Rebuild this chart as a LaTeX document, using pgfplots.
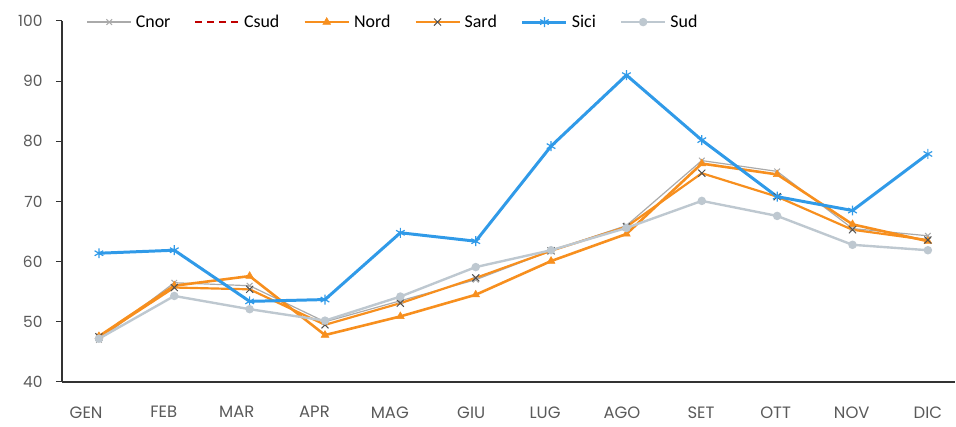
\documentclass[border=0pt]{standalone}
\usepackage{fontspec}
\setmainfont{Carlito}
\newfontfamily\tickfont{Poppins}
\usepackage{pgfplots}
\pgfplotsset{compat=1.18}
\definecolor{cnor}{RGB}{170,170,170}
\definecolor{csud}{RGB}{192,0,0}
\definecolor{nord}{RGB}{247,143,30}
\definecolor{sardm}{RGB}{80,80,80}
\definecolor{sici}{RGB}{48,154,232}
\definecolor{sud}{RGB}{190,200,208}
\definecolor{ticktext}{RGB}{90,90,90}
\begin{document}
\begin{tikzpicture}[x=1bp,y=1bp]
\begin{axis}[
  name=ax,
  scale only axis,
  width=893bp, height=361bp,
  xmin=-0.49, xmax=11.36,
  ymin=40, ymax=100,
  ytick={40,50,...,100},
  xtick={-0.17,0.86,1.83,2.86,3.86,4.94,5.92,6.94,7.99,8.98,9.99,11.0},
  xticklabels={GEN,FEB,MAR,APR,MAG,GIU,LUG,AGO,SET,OTT,NOV,DIC},
  axis x line=bottom, axis y line=left,
  axis line style={-, black!80, line width=1.2pt},
  x tick style={draw=none},
  y tick style={black!80, line width=1pt},
  tick align=outside,
  major tick length=6bp,
  /pgf/number format/assume math mode=true,
  yticklabel style={font=\tickfont\fontsize{15.5}{15.5}\selectfont, text=ticktext, xshift=-10bp},
  xticklabel style={font=\tickfont\fontsize{16.5}{16.5}\selectfont, text=ticktext, yshift=-15bp},
  legend style={draw=none, fill=none, at={(rel axis cs:0.024,0.997)}, anchor=west,
    font=\fontsize{18}{18}\selectfont,
    nodes={inner xsep=4bp},
    /tikz/every even column/.style={column sep=20bp}},
  legend columns=6,
  legend image code/.code={\draw[mark repeat=2, mark phase=2, #1] plot coordinates {(0bp,0bp) (22bp,0bp) (44bp,0bp)};},
  legend cell align=left,
  clip=false,
]
% Cnor
\addplot[color=cnor, line width=1.2pt, mark=x, mark size=4pt, mark options={solid, line width=1pt}]
 coordinates {(0,47.0) (1,56.5) (2,56.0) (3,50.0) (4,53.5) (5,57.0) (6,61.8) (7,66.0) (8,76.8) (9,75.0) (10,65.5) (11,64.3)};
\addlegendentry{Cnor}
\addlegendimage{color=csud, line width=1.5pt, dash pattern=on 7bp off 5bp}
\addlegendentry{Csud}
% Nord
\addplot[color=nord, line width=2.6pt, mark=triangle*, mark size=4.5pt, mark options={solid, line width=0.5pt}]
 coordinates {(0,47.6) (1,56.0) (2,57.6) (3,47.8) (4,50.9) (5,54.5) (6,60.1) (7,64.6) (8,76.3) (9,74.5) (10,66.2) (11,63.4)};
\addlegendentry{Nord}
% Sard
\addplot[color=nord, line width=2.2pt, mark=x, mark size=5pt, mark options={solid, draw=sardm, line width=1pt}]
 coordinates {(0,47.5) (1,55.7) (2,55.4) (3,49.5) (4,53.1) (5,57.3) (6,61.8) (7,65.8) (8,74.7) (9,70.8) (10,65.3) (11,63.6)};
\addlegendentry{Sard}
% Sici
\addplot[color=sici, line width=3pt, mark=asterisk, mark size=5pt, mark options={solid, line width=1.2pt}]
 coordinates {(0,61.4) (1,61.9) (2,53.4) (3,53.7) (4,64.8) (5,63.4) (6,79.2) (7,91.0) (8,80.2) (9,70.8) (10,68.5) (11,77.9)};
\addlegendentry{Sici}
% Sud
\addplot[color=sud, line width=2.4pt, mark=*, mark size=3pt, mark options={solid}]
 coordinates {(0,47.2) (1,54.3) (2,52.1) (3,50.2) (4,54.2) (5,59.1) (6,61.9) (7,65.6) (8,70.1) (9,67.6) (10,62.8) (11,61.9)};
\addlegendentry{Sud}
\end{axis}
\pgfresetboundingbox
\path ([xshift=-62bp,yshift=-45bp]ax.south west) rectangle ([xshift=1bp,yshift=21bp]ax.north east);
\end{tikzpicture}
\end{document}
